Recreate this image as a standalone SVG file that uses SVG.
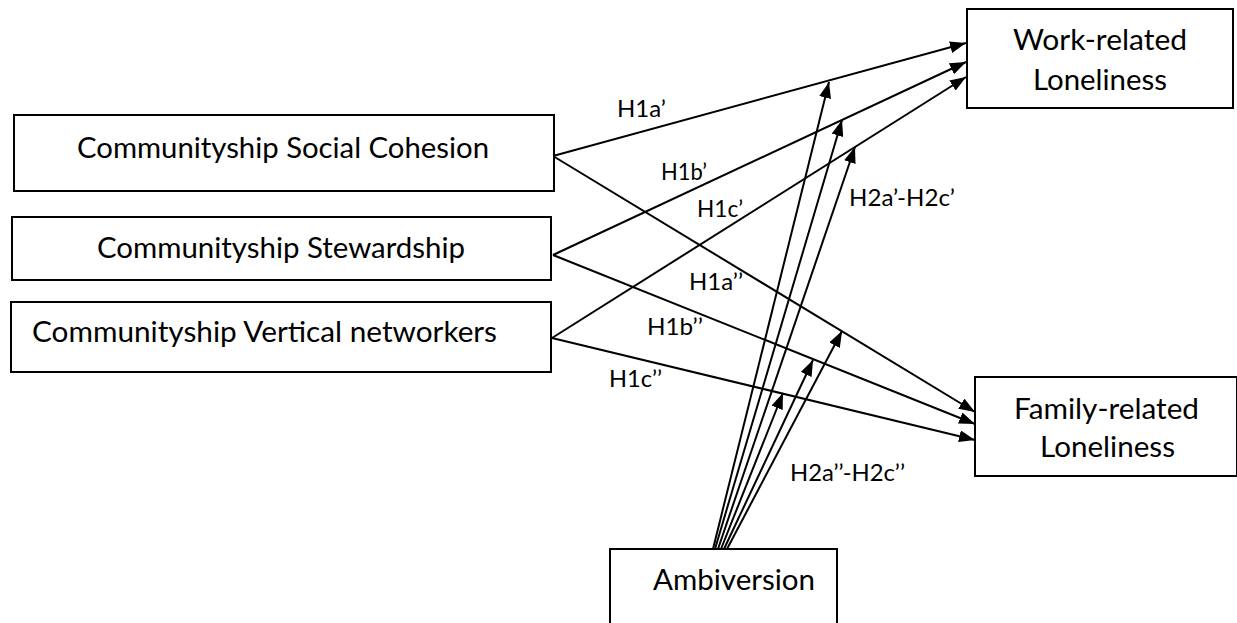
<svg xmlns="http://www.w3.org/2000/svg" width="1237" height="623" viewBox="0 0 1237 623">
<style>
.box{fill:#fff;stroke:#000;stroke-width:2}
.t{font-family:Lato,"Open Sans","Liberation Sans",sans-serif;font-size:28px;fill:#000}
.l{font-family:Lato,"Open Sans","Liberation Sans",sans-serif;font-size:23px;fill:#000}
.c{stroke:#000;stroke-width:2;fill:none;marker-end:url(#ah)}
</style>
<defs>
<marker id="ah" viewBox="0 0 16 12" refX="16" refY="6" markerWidth="16" markerHeight="12" orient="auto" markerUnits="userSpaceOnUse">
<path d="M0,0 L16,6 L0,12 z" fill="#000"/>
</marker>
</defs>
<rect width="1237" height="623" fill="#fff"/>
<g id="connectors">
<line class="c" x1="553" y1="156" x2="966" y2="43"/>
<line class="c" x1="553" y1="255" x2="966" y2="62"/>
<line class="c" x1="552" y1="338" x2="966" y2="77"/>
<line class="c" x1="553" y1="156" x2="975" y2="412"/>
<line class="c" x1="553" y1="255" x2="975" y2="424"/>
<line class="c" x1="552" y1="338" x2="975" y2="440"/>
<line class="c" x1="713" y1="549" x2="829" y2="82"/>
<line class="c" x1="715" y1="549" x2="842" y2="120"/>
<line class="c" x1="718" y1="549" x2="855" y2="147"/>
<line class="c" x1="721" y1="549" x2="783" y2="393"/>
<line class="c" x1="724" y1="549" x2="813" y2="360"/>
<line class="c" x1="727" y1="549" x2="842" y2="331"/>
<text class="l" x="617" y="117" textLength="49" lengthAdjust="spacingAndGlyphs">H1a’</text>
<text class="l" x="661" y="180" textLength="46" lengthAdjust="spacingAndGlyphs">H1b’</text>
<text class="l" x="697" y="217" textLength="46" lengthAdjust="spacingAndGlyphs">H1c’</text>
<text class="l" x="689" y="290" textLength="54" lengthAdjust="spacingAndGlyphs">H1a’’</text>
<text class="l" x="647" y="335" textLength="56" lengthAdjust="spacingAndGlyphs">H1b’’</text>
<text class="l" x="609" y="387" textLength="53" lengthAdjust="spacingAndGlyphs">H1c’’</text>
<text class="l" x="849" y="206" textLength="106" lengthAdjust="spacingAndGlyphs">H2a’-H2c’</text>
<text class="l" x="790" y="481" textLength="115" lengthAdjust="spacingAndGlyphs">H2a’’-H2c’’</text>
</g>
<g id="social-cohesion">
<rect class="box" x="14" y="115" width="540" height="76"/>
<text class="t" x="77" y="158" textLength="412" lengthAdjust="spacingAndGlyphs">Communityship Social Cohesion</text>
</g>
<g id="stewardship">
<rect class="box" x="12" y="217" width="539" height="63"/>
<text class="t" x="97" y="258" textLength="368" lengthAdjust="spacingAndGlyphs">Communityship Stewardship</text>
</g>
<g id="vertical-networkers">
<rect class="box" x="11" y="302" width="540" height="70"/>
<text class="t" x="32" y="342" textLength="465" lengthAdjust="spacingAndGlyphs">Communityship Vertical networkers</text>
</g>
<g id="work-loneliness">
<rect class="box" x="967" y="9" width="266" height="99"/>
<text class="t" x="1013" y="50" textLength="174" lengthAdjust="spacingAndGlyphs">Work-related</text>
<text class="t" x="1033" y="90" textLength="134" lengthAdjust="spacingAndGlyphs">Loneliness</text>
</g>
<g id="family-loneliness">
<rect class="box" x="975" y="377" width="262" height="99"/>
<text class="t" x="1014" y="419" textLength="185" lengthAdjust="spacingAndGlyphs">Family-related</text>
<text class="t" x="1040" y="457" textLength="135" lengthAdjust="spacingAndGlyphs">Loneliness</text>
</g>
<g id="ambiversion">
<rect class="box" x="610" y="549" width="227" height="90"/>
<text class="t" x="653" y="590" textLength="162" lengthAdjust="spacingAndGlyphs">Ambiversion</text>
</g>
</svg>
